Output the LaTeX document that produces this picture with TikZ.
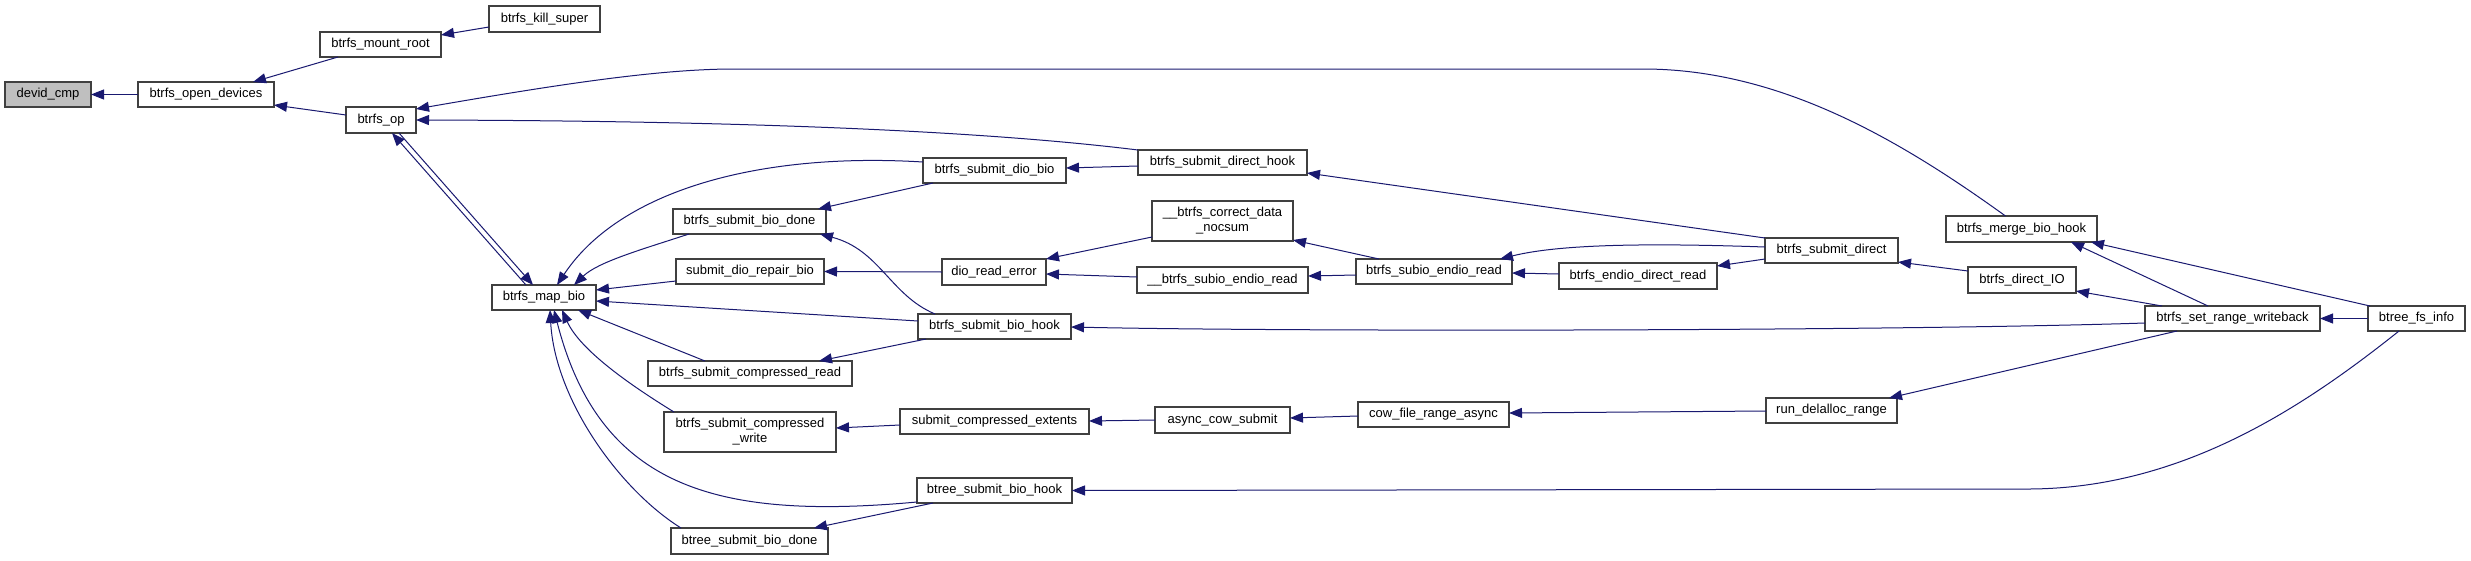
\documentclass[tikz,border=0pt]{standalone}
\usepackage{fontspec}
\setmainfont{Liberation Sans}
\usetikzlibrary{arrows.meta}
\definecolor{edgec}{HTML}{191970}
\definecolor{boxc}{HTML}{404040}
\definecolor{grayfill}{HTML}{BFBFBF}
\newcommand\gnode[7][]{\node[box,#1,minimum width={#5pt-#3pt},minimum height={#6pt-#4pt}] (#2) at ({(#3+#5)/2},{(#4+#6)/2}) {#7};}
\begin{document}
\begin{tikzpicture}[x=1pt,y=-1pt,
  box/.style={draw=boxc, line width=1.1pt, fill=white, inner sep=0pt, outer sep=0pt, font=\fontsize{13}{15}\selectfont, align=center},
  edge/.style={draw=edgec, line width=1pt, -{Triangle[length=13pt,width=10pt]}}]
\fill[white] (0,0) rectangle (2471,560);
\useasboundingbox (0,0) rectangle (2471,560);
% nodes
\gnode[fill=grayfill]{devid}{5}{82}{91}{107}{devid\_cmp}
\gnode{opendev}{138}{82}{274}{107}{btrfs\_open\_devices}
\gnode{mountroot}{320}{32}{441}{57}{btrfs\_mount\_root}
\gnode{killsuper}{489}{6}{600}{32}{btrfs\_kill\_super}
\gnode{op}{346}{107}{416}{133}{btrfs\_op}
\gnode{mapbio}{492}{285}{596}{310}{btrfs\_map\_bio}
\gnode{biodone}{673}{209}{826}{234}{btrfs\_submit\_bio\_done}
\gnode{repair}{676}{259}{824}{284}{submit\_dio\_repair\_bio}
\gnode{compread}{648}{361}{852}{386}{btrfs\_submit\_compressed\_read}
\gnode{compwrite}{664}{412}{836}{452}{btrfs\_submit\_compressed\\\_write}
\gnode{btreedone}{671}{528}{828}{554}{btree\_submit\_bio\_done}
\gnode{diobio}{923}{158}{1066}{183}{btrfs\_submit\_dio\_bio}
\gnode{biohook}{918}{314}{1071}{339}{btrfs\_submit\_bio\_hook}
\gnode{dioerr}{942}{259}{1046}{285}{dio\_read\_error}
\gnode{compext}{900}{409}{1089}{434}{submit\_compressed\_extents}
\gnode{btreehook}{917}{478}{1072}{503}{btree\_submit\_bio\_hook}
\gnode{directhook}{1138}{150}{1307}{175}{btrfs\_submit\_direct\_hook}
\gnode{nocsum}{1152}{201}{1293}{241}{\_\_btrfs\_correct\_data\\\_nocsum}
\gnode{usubio}{1137}{267}{1308}{293}{\_\_btrfs\_subio\_endio\_read}
\gnode{asynccow}{1155}{407}{1290}{433}{async\_cow\_submit}
\gnode{subio}{1356}{259}{1512}{284}{btrfs\_subio\_endio\_read}
\gnode{cowrange}{1358}{402}{1509}{427}{cow\_file\_range\_async}
\gnode{endiodr}{1559}{263}{1717}{289}{btrfs\_endio\_direct\_read}
\gnode{subdirect}{1765}{238}{1898}{263}{btrfs\_submit\_direct}
\gnode{delalloc}{1766}{398}{1897}{423}{run\_delalloc\_range}
\gnode{merge}{1946}{216}{2097}{242}{btrfs\_merge\_bio\_hook}
\gnode{directio}{1968}{267}{2076}{293}{btrfs\_direct\_IO}
\gnode{writeback}{2145}{306}{2320}{331}{btrfs\_set\_range\_writeback}
\gnode{fsinfo}{2368}{306}{2465}{331}{btree\_fs\_info}
% edges
\draw[edge] (opendev.west) -- (devid.east);
\draw[edge] ([xshift=18pt]mountroot.south west) -- ([xshift=-21pt]opendev.north east);
\draw[edge] ([yshift=-21pt]killsuper.north west) -- ([yshift=-3pt]mountroot.north east);
\draw[edge] ([yshift=-8pt]op.north west) -- ([yshift=2pt]opendev.south east);
\draw[edge] ([xshift=-16pt]merge.north) .. controls (1900,140) and (1780,69) .. (1643,69) -- (734,69) .. controls (660,69) and (560,84) .. ([yshift=-2pt]op.north east);
\draw[edge] (directhook.north west) .. controls (1000,133) and (780,121) .. (op.east);
\draw[edge] ([xshift=34pt]mapbio.north west) -- ([xshift=46pt]op.south west);
\draw[edge] ([xshift=53pt]op.south west) -- ([xshift=41pt]mapbio.north west);
\draw[edge] ([yshift=-4pt]diobio.north west) .. controls (760,152) and (620,190) .. ([xshift=65pt]mapbio.north west);
\draw[edge] ([xshift=16pt]biodone.south west) .. controls (640,250) and (598,262) .. ([xshift=82pt]mapbio.north west);
\draw[edge] ([yshift=-22pt]repair.north west) -- ([yshift=-5pt]mapbio.north east);
\draw[edge] ([yshift=-7pt]biohook.north west) -- ([yshift=-16pt]mapbio.north east);
\draw[edge] ([xshift=57pt]compread.north west) -- ([xshift=-18pt]mapbio.south east);
\draw[edge] ([xshift=10pt]compwrite.north west) .. controls (630,385) and (580,350) .. ([xshift=70pt]mapbio.south west);
\draw[edge] ([yshift=-24pt]btreehook.north west) .. controls (720,520) and (600,490) .. ([xshift=62pt]mapbio.south west);
\draw[edge] ([xshift=10pt]btreedone.north west) .. controls (620,490) and (555,400) .. ([xshift=58pt]mapbio.south west);
\draw[edge] ([xshift=10pt]diobio.south west) -- ([xshift=-8pt]biodone.north east);
\draw[edge] ([xshift=17pt]biohook.north west) .. controls (890,295) and (880,250) .. ([xshift=-6pt]biodone.south east);
\draw[edge] (dioerr.west) -- (repair.east);
\draw[edge] ([yshift=4pt]nocsum.south west) -- (dioerr.north east);
\draw[edge] ([yshift=-10pt]usubio.north west) -- ([yshift=-15pt]dioerr.north east);
\draw[edge] ([yshift=-16pt]directhook.north west) -- ([yshift=-10pt]diobio.north east);
\draw[edge] (subdirect.north west) -- ([yshift=2pt]directhook.south east);
\draw[edge] ([xshift=23pt]subio.north west) -- ([yshift=1pt]nocsum.south east);
\draw[edge] ([yshift=-16pt]subio.north west) -- ([yshift=-9pt]usubio.north east);
\draw[edge] ([yshift=-9pt]subdirect.north west) .. controls (1650,243) and (1560,244) .. ([xshift=-12pt]subio.north east);
\draw[edge] ([yshift=-11pt]endiodr.north west) -- ([yshift=-14pt]subio.north east);
\draw[edge] ([yshift=4pt]subdirect.south west) -- ([yshift=-3pt]endiodr.north east);
\draw[edge] ([yshift=-4pt]directio.north west) -- ([yshift=1pt]subdirect.south east);
\draw[edge] ([xshift=63pt]writeback.north west) -- ([xshift=-26pt]merge.south east);
\draw[edge] ([xshift=2pt]fsinfo.north west) -- ([xshift=-6pt]merge.south east);
\draw[edge] ([xshift=17pt]writeback.north west) -- ([yshift=2pt]directio.south east);
\draw[edge] ([yshift=-17pt]writeback.north west) .. controls (1900,331) and (1300,332) .. ([yshift=-13pt]biohook.north east);
\draw[edge] ([xshift=32pt]writeback.south west) -- ([xshift=-8pt]delalloc.north east);
\draw[edge] (fsinfo.west) -- (writeback.east);
\draw[edge] ([xshift=31pt]fsinfo.south west) .. controls (2300,410) and (2180,488) .. (2030,489) -- (btreehook.east);
\draw[edge] ([yshift=-13pt]delalloc.north west) -- ([yshift=-11pt]cowrange.north east);
\draw[edge] ([yshift=-14pt]cowrange.north west) -- ([yshift=-11pt]asynccow.north east);
\draw[edge] ([yshift=-13pt]asynccow.north west) -- ([yshift=-12pt]compext.north east);
\draw[edge] ([yshift=-16pt]compext.north west) -- ([yshift=-16pt]compwrite.north east);
\draw[edge] ([xshift=8pt]biohook.south west) -- ([xshift=-33pt]compread.north east);
\draw[edge] ([xshift=16pt]btreehook.south west) -- ([xshift=-14pt]btreedone.north east);
\end{tikzpicture}
\end{document}
